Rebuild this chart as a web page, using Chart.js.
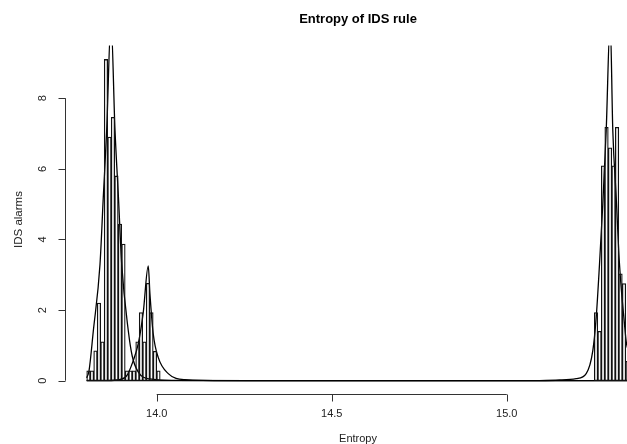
<!DOCTYPE html>
<html>
<head>
<meta charset="utf-8">
<script src="https://cdn.jsdelivr.net/npm/chart.js@4.4.0/dist/chart.umd.min.js"></script>
<style>
html, body { margin: 0; padding: 0; background: #fff; overflow: hidden; }
#wrap { width: 627px; height: 444px; overflow: hidden; }
canvas { display: block; }
</style>
</head>
<body>
<div id="wrap"><canvas id="myChart" width="700" height="444"></canvas></div>
<script>
const title = 'Entropy of IDS rule';
const xLabel = 'Entropy';
const yLabel = 'IDS alarms';
const xTicks = [14.0, 14.5, 15.0];
const yTicks = [0, 2, 4, 6, 8];

// histogram: centre of each 0.01 bin and its density
const binCentres = [13.805, 13.815, 13.825, 13.835, 13.845, 13.855, 13.865, 13.875, 13.885, 13.895,
                    13.905, 13.915, 13.925, 13.935, 13.945, 13.955, 13.965, 13.975, 13.985, 13.995, 14.005,
                    15.255, 15.265, 15.275, 15.285, 15.295, 15.305, 15.315, 15.325, 15.335, 15.345];
const binHeights = [0.28, 0.28, 0.85, 2.2, 1.1, 9.1, 6.9, 7.46, 5.8, 4.44,
                    3.87, 0.28, 0.28, 0.28, 1.1, 1.93, 1.1, 2.76, 1.93, 0.83, 0.28,
                    1.93, 1.4, 6.09, 7.18, 6.6, 6.09, 7.18, 3.03, 2.75, 0.55];

// fitted curves
const curve1X = [13.800, 13.8066, 13.8188, 13.838, 13.8474, 13.8571, 13.8694, 13.8808, 13.8906, 13.900, 13.919, 13.930, 13.947, 13.980, 14.050, 14.300, 15.412];
const curve1Y = [0.08, 0.28, 1.4, 3.3, 5.2, 7.1, 10.2, 7.1, 5.2, 3.3, 1.4, 0.7, 0.25, 0.05, 0.01, 0, 0];
const curve2X = [13.800, 13.850, 13.8856, 13.9142, 13.933, 13.9473, 13.9615, 13.9758, 13.9807, 13.990, 14.0043, 14.0329, 14.0805, 14.200, 15.412];
const curve2Y = [0, 0, 0.02, 0.14, 0.57, 1.05, 1.93, 3.25, 2.45, 1.33, 0.66, 0.2, 0.03, 0, 0];
const curve3X = [13.800, 15.000, 15.0937, 15.1508, 15.1984, 15.2269, 15.2458, 15.2555, 15.2649, 15.2743, 15.284, 15.2954, 15.3029, 15.3126, 15.322, 15.3363, 15.342, 15.35];
const curve3Y = [0, 0, 0.005, 0.02, 0.06, 0.2, 0.85, 1.8, 3.3, 5.0, 7.08, 10.2, 7.08, 5.2, 3.3, 1.6, 1.05, 0.8];

const pts = (xs, ys) => xs.map((x, i) => ({x: x, y: ys[i]}));
const font = '"Liberation Sans", Arial, sans-serif';

const curveStyle = {
    type: 'line',
    borderColor: '#000',
    borderWidth: 1.3,
    pointRadius: 0,
    cubicInterpolationMode: 'monotone',
    fill: false,
    clip: 0
};

// R style axes: lines only from first to last tick, labels drawn by hand
const rAxes = {
    id: 'rAxes',
    afterDraw(chart) {
        const {ctx, chartArea, scales: {x, y}} = chart;
        ctx.save();
        ctx.strokeStyle = '#333';
        ctx.lineWidth = 1;
        ctx.beginPath();
        const ax = Math.round(chartArea.left) + 0.5;
        ctx.moveTo(ax, y.getPixelForValue(yTicks[0]));
        ctx.lineTo(ax, y.getPixelForValue(yTicks[yTicks.length - 1]));
        yTicks.forEach(t => {
            const py = Math.round(y.getPixelForValue(t)) + 0.5;
            ctx.moveTo(ax, py); ctx.lineTo(ax - 7, py);
        });
        const ay = Math.round(chartArea.bottom) + 0.5;
        ctx.moveTo(x.getPixelForValue(xTicks[0]), ay);
        ctx.lineTo(x.getPixelForValue(xTicks[xTicks.length - 1]), ay);
        xTicks.forEach(t => {
            const px = Math.round(x.getPixelForValue(t)) + 0.5;
            ctx.moveTo(px, ay); ctx.lineTo(px, ay + 7);
        });
        ctx.stroke();

        ctx.fillStyle = '#222';
        ctx.font = '11px ' + font;
        ctx.textAlign = 'center';
        ctx.textBaseline = 'middle';
        xTicks.forEach(t => ctx.fillText(t.toFixed(1), x.getPixelForValue(t), 414));
        yTicks.forEach(t => {
            ctx.save();
            ctx.translate(43, y.getPixelForValue(t));
            ctx.rotate(-Math.PI / 2);
            ctx.fillText(String(t), 0, 0);
            ctx.restore();
        });
        const cx = (chartArea.left + chartArea.right) / 2;
        ctx.fillText(xLabel, cx, 439);
        ctx.save();
        ctx.translate(19, (chartArea.top + chartArea.bottom) / 2);
        ctx.rotate(-Math.PI / 2);
        ctx.font = '11.5px ' + font;
        ctx.fillText(yLabel, 0, 0);
        ctx.restore();
        ctx.fillStyle = '#000';
        ctx.font = 'bold 13px ' + font;
        ctx.fillText(title, cx, 19);
        ctx.restore();
    }
};

new Chart(document.getElementById('myChart').getContext('2d'), {
    type: 'bar',
    data: {
        datasets: [
            {
                type: 'bar',
                data: pts(binCentres, binHeights),
                backgroundColor: 'rgba(0,0,0,0)',
                borderColor: '#111',
                borderWidth: 0.6,
                borderSkipped: false,
                barPercentage: 1,
                categoryPercentage: 1
            },
            Object.assign({data: pts(curve1X, curve1Y)}, curveStyle),
            Object.assign({data: pts(curve2X, curve2Y)}, curveStyle),
            Object.assign({data: pts(curve3X, curve3Y)}, curveStyle)
        ]
    },
    options: {
        responsive: false,
        animation: false,
        events: [],
        layout: { padding: { left: 65, right: 49, top: 45.5, bottom: 50.4 } },
        plugins: { legend: { display: false }, tooltip: { enabled: false } },
        scales: {
            x: { type: 'linear', display: false, offset: false, min: 13.738, max: 15.412 },
            y: { type: 'linear', display: false, min: -0.365, max: 9.495 }
        }
    },
    plugins: [rAxes]
});
</script>
</body>
</html>
